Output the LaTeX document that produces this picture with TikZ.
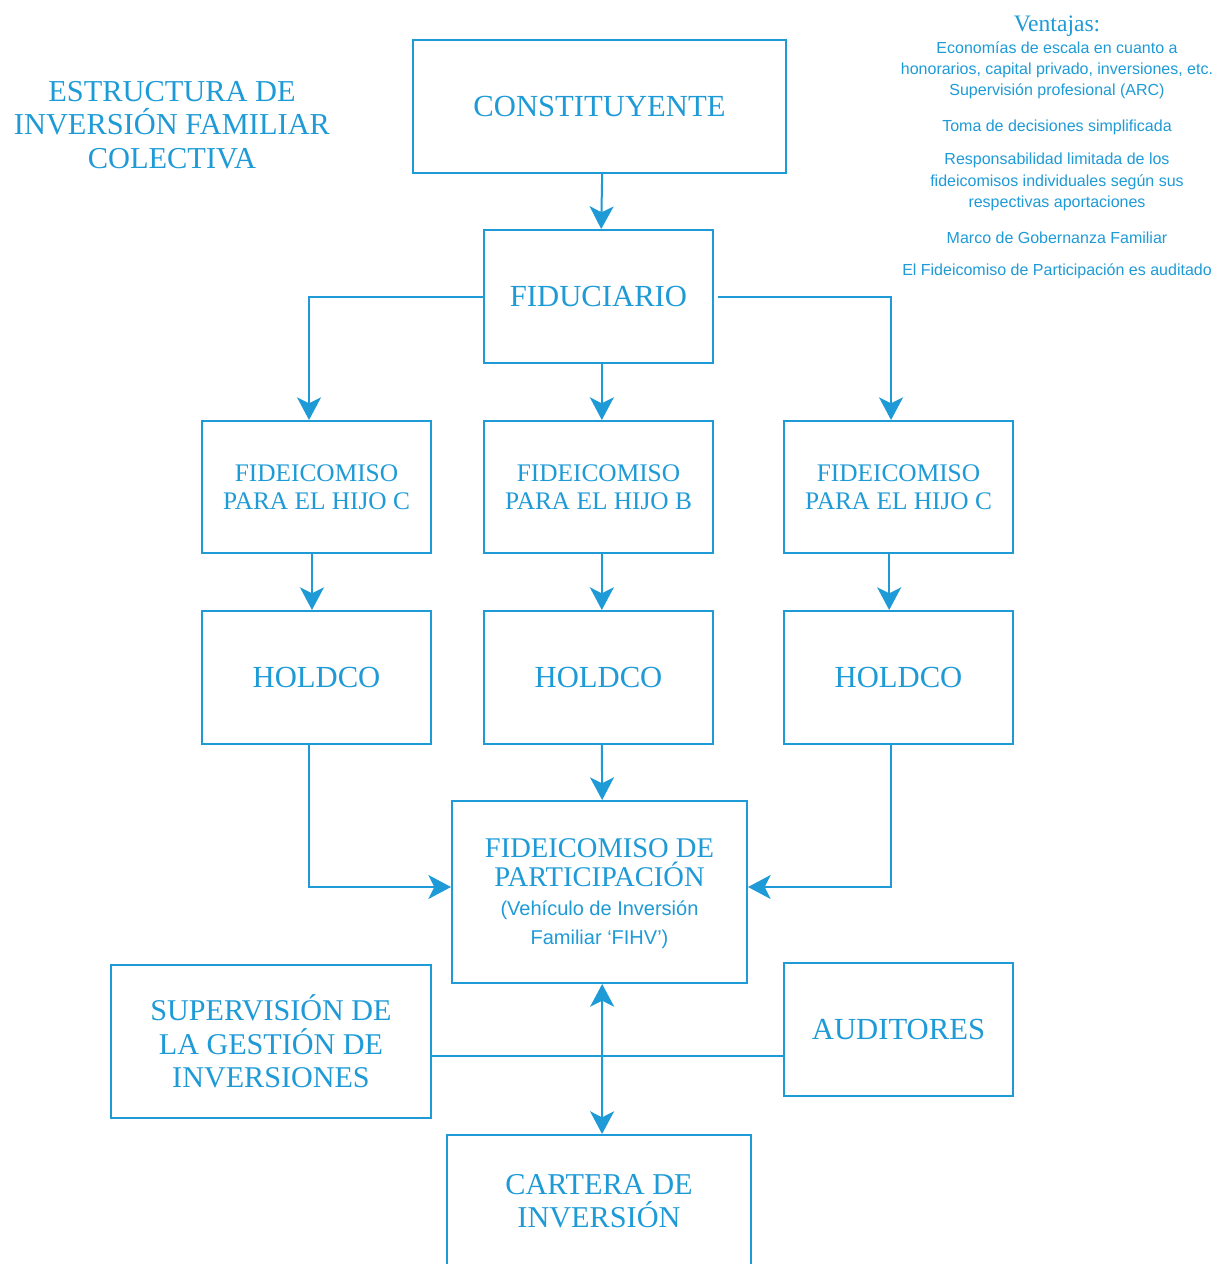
\documentclass[tikz,border=0pt]{standalone}
\usepackage{fontspec}
\setmainfont{Liberation Serif}
\setsansfont{Liberation Sans}
\usetikzlibrary{arrows.meta}
\definecolor{bl}{RGB}{30,155,215}
\tikzset{bigtip/.tip={Stealth[length=17pt,width=18pt,inset=4.5pt,fill=bl]}}
\begin{document}
\begin{tikzpicture}[x=0.75pt,y=-0.75pt,
  sz/.style 2 args={minimum width=#1*0.75pt, minimum height=#2*0.75pt},
  box/.style={draw=bl, line width=1.5pt, text=bl, align=center, inner sep=0pt, font=\fontsize{23}{25}\selectfont},
  fbox/.style={box, font=\fontsize{19}{21}\selectfont},
  conn/.style={draw=bl, line width=1.5pt},
  arr/.style={conn, -bigtip},
  darr/.style={conn, bigtip-bigtip},
  small/.style={text=bl, align=center, inner sep=0pt, font=\sffamily\fontsize{12}{15.9}\selectfont}]
\clip (0,0) rectangle (1218,1264);
\fill[white] (0,0) rectangle (1218,1264);

% title
\node[text=bl, align=center, inner sep=0pt, font=\fontsize{22.8}{25}\selectfont] (title) at (172,125)
  {ESTRUCTURA DE\\INVERSIÓN FAMILIAR\\COLECTIVA};

% advantages
\node[text=bl, inner sep=0pt, font=\fontsize{17.7}{20}\selectfont] (vent) at (1057,26.5) {Ventajas:};
\node[small] (a1) at (1057,70.5) {Economías de escala en cuanto a\\honorarios, capital privado, inversiones, etc.\\Supervisión profesional (ARC)};
\node[small] (a2) at (1057,127) {Toma de decisiones simplificada};
\node[small] (a3) at (1057,182) {Responsabilidad limitada de los\\fideicomisos individuales según sus\\respectivas aportaciones};
\node[small] (a4) at (1057,238) {Marco de Gobernanza Familiar};
\node[small] (a5) at (1057,271) {El Fideicomiso de Participación es auditado};

% boxes
\node[box, sz={373}{133}] (const) at (599.5,106.5) {CONSTITUYENTE};
\node[box, sz={229}{133}] (fid) at (598.5,296.5) {FIDUCIARIO};
\node[fbox, sz={229}{132}] (fc1) at (316.5,487) {FIDEICOMISO\\PARA EL HIJO C};
\node[fbox, sz={229}{132}] (fb) at (598.5,487) {FIDEICOMISO\\PARA EL HIJO B};
\node[fbox, sz={229}{132}] (fc2) at (898.5,487) {FIDEICOMISO\\PARA EL HIJO C};
\node[box, sz={229}{133}] (h1) at (316.5,677.5) {HOLDCO};
\node[box, sz={229}{133}] (hb) at (598.5,677.5) {HOLDCO};
\node[box, sz={229}{133}] (h3) at (898.5,677.5) {HOLDCO};
\node[box, sz={295}{182}] (part) at (599.5,892) {};
\node[text=bl, align=center, inner sep=0pt, font=\fontsize{21.4}{21.75}\selectfont] (partlbl) at (599.5,894)
  {FIDEICOMISO DE\\PARTICIPACIÓN\\{\sffamily\fontsize{15}{21.75}\selectfont (Vehículo de Inversión}\\{\sffamily\fontsize{15}{21.75}\selectfont Familiar ‘FIHV’)}};
\node[box, sz={320}{153}, font=\fontsize{22.6}{25}\selectfont] (sup) at (271,1041.5) {SUPERVISIÓN DE\\LA GESTIÓN DE\\INVERSIONES};
\node[box, sz={229}{133}] (aud) at (898.5,1029.5) {AUDITORES};
\node[box, sz={304}{132}, font=\fontsize{22.7}{25}\selectfont] (cart) at (599,1201) {CARTERA DE\\INVERSIÓN};

% connectors
\draw[arr] ([xshift=2pt]const.south) -- ([xshift=2pt]fid.north);
\draw[arr] (fid.west) -| ([xshift=-5.6pt]fc1.north);
\draw[arr] ([xshift=3pt]fid.east) -| ([xshift=-5.6pt]fc2.north);
\draw[arr] ([xshift=2.5pt]fid.south) -- ([xshift=2.5pt]fb.north);
\draw[arr] ([xshift=-3.4pt]fc1.south) -- ([xshift=-3.4pt]h1.north);
\draw[arr] ([xshift=2.5pt]fb.south) -- ([xshift=2.5pt]hb.north);
\draw[arr] ([xshift=-7pt]fc2.south) -- ([xshift=-7pt]h3.north);
\draw[arr] ([xshift=-5.6pt]h1.south) |- ([yshift=3.75pt]part.west);
\draw[arr] ([xshift=-5.6pt]h3.south) |- ([yshift=3.75pt]part.east);
\draw[arr] ([xshift=2.5pt]hb.south) -- ([xshift=2pt]part.north);
\draw[darr] ([xshift=2pt]part.south) -- ([xshift=2.3pt]cart.north);
\coordinate (hl) at (0,1056);
\draw[conn] (sup.east |- hl) -- (aud.west |- hl);
\end{tikzpicture}
\end{document}
